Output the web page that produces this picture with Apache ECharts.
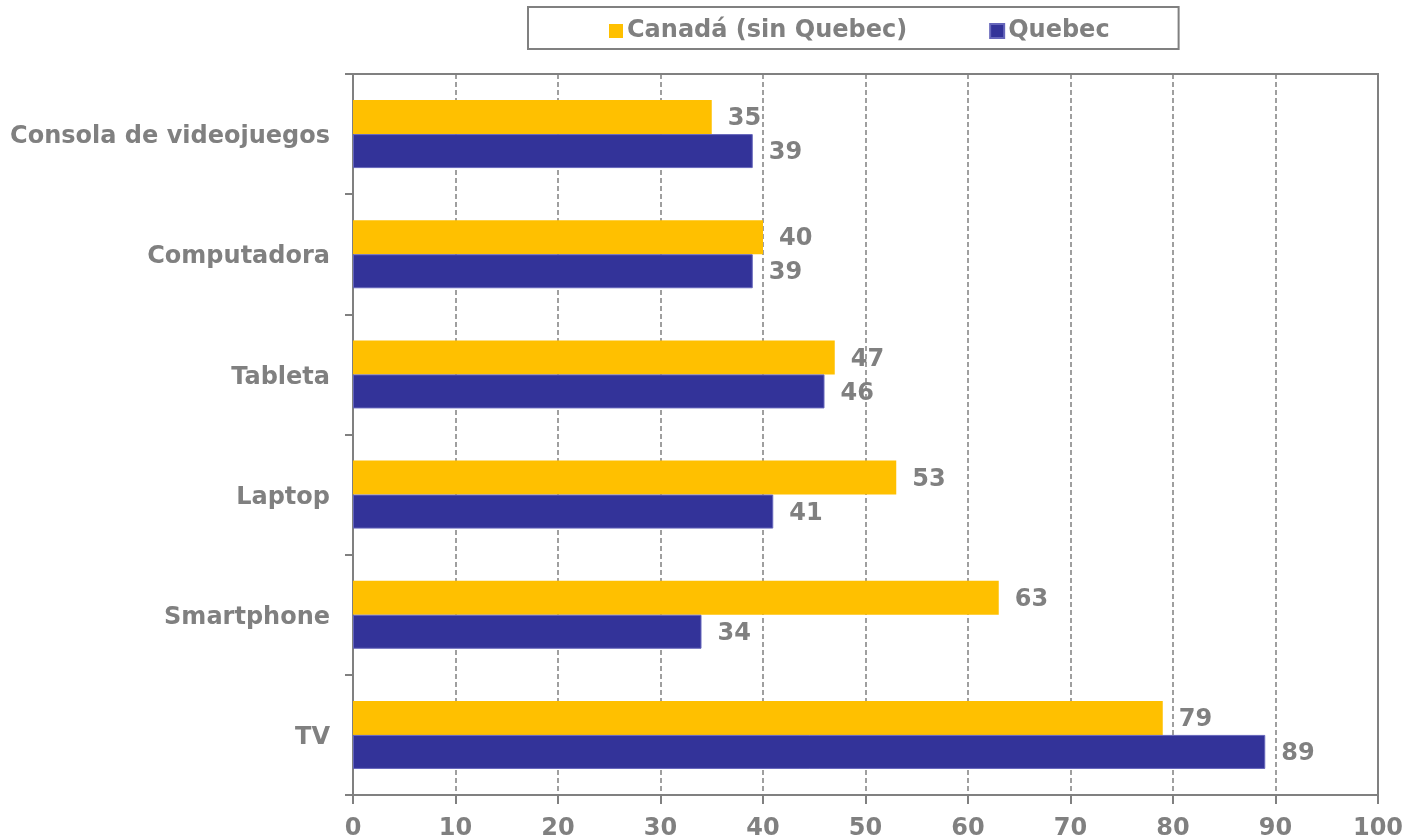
<!DOCTYPE html>
<html><head><meta charset="utf-8">
<script src="https://cdn.jsdelivr.net/npm/echarts@6/dist/echarts.min.js"></script>
<style>html,body{margin:0;padding:0;background:#fff}#c{width:1407px;height:838px}</style>
</head><body><div id="c"></div>
<script>
const categories = ['TV', 'Smartphone', 'Laptop', 'Tableta', 'Computadora', 'Consola de videojuegos'];
const canada = [79, 63, 53, 47, 40, 35];
const quebec = [89, 34, 41, 46, 39, 39];
const seriesNames = ['Canadá (sin Quebec)', 'Quebec'];
const xTicks = [0, 10, 20, 30, 40, 50, 60, 70, 80, 90, 100];

const gray = '#808080';
const font = 'DejaVu Sans';
const fs = 24;
const chart = echarts.init(document.getElementById('c'));
chart.setOption({
  animation: false,
  legend: {
    data: seriesNames,
    left: 528, top: 7,
    padding: [12, 69, 6, 81],
    itemGap: 82,
    itemWidth: 14, itemHeight: 14,
    icon: 'rect',
    borderColor: gray, borderWidth: 2,
    textStyle: { fontFamily: font, fontWeight: 'bold', fontSize: fs, color: gray, padding: [0, 0, 0, -1] }
  },
  grid: { left: 353, right: 29, top: 74, bottom: 43, show: true, borderColor: gray, borderWidth: 2, outerBoundsMode: 'none', containLabel: false },
  xAxis: {
    type: 'value', min: xTicks[0], max: xTicks[xTicks.length - 1], interval: 10,
    axisLine: { show: true, lineStyle: { color: gray, width: 2 } },
    axisTick: { show: true, length: 9, lineStyle: { color: gray, width: 2 } },
    axisLabel: { fontFamily: font, fontWeight: 'bold', fontSize: fs, color: gray, margin: 22 },
    splitLine: { show: true, lineStyle: { color: gray, width: 1.5, type: [5, 3] } }
  },
  yAxis: {
    type: 'category', data: categories,
    axisLine: { show: true, lineStyle: { color: gray, width: 2 } },
    axisTick: { show: true, length: 8, lineStyle: { color: gray, width: 2 } },
    axisLabel: {
      margin: 23,
      formatter: v => '{c|' + v + '}',
      rich: { c: { fontFamily: font, fontWeight: 'bold', fontSize: fs, color: gray, padding: [6, 0, 0, 0] } }
    }
  },
  series: [
    {
      name: seriesNames[0], type: 'bar', data: canada, barWidth: 34, barGap: '0%',
      itemStyle: { color: '#FFC000' },
      label: { show: true, position: 'right', distance: 16, offset: [0, 2], fontFamily: font, fontWeight: 'bold', fontSize: fs, color: gray }
    },
    {
      name: seriesNames[1], type: 'bar', data: quebec, barWidth: 34, barGap: '0%',
      itemStyle: { color: '#333399', borderColor: '#6666bb', borderWidth: 1 },
      label: { show: true, position: 'right', distance: 16, offset: [0, 2], fontFamily: font, fontWeight: 'bold', fontSize: fs, color: gray }
    }
  ]
});
</script></body></html>
